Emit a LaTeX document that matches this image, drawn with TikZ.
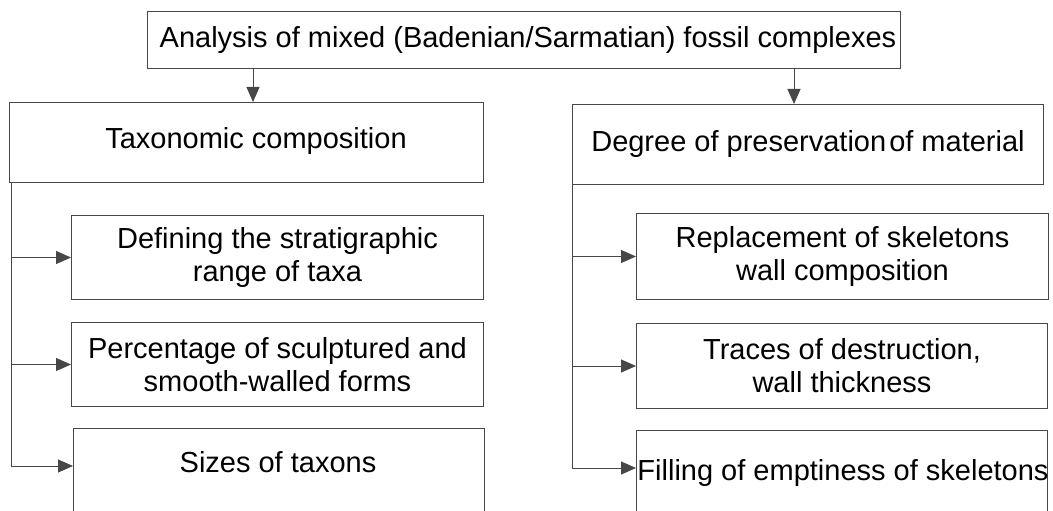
\documentclass[tikz,border=0pt]{standalone}
\usepackage{fontspec}
\setmainfont{Liberation Sans}
\usetikzlibrary{arrows.meta}
\begin{document}
\begin{tikzpicture}[x=1pt,y=-1pt,
  box/.style={draw=black!72, line width=1pt, inner sep=0pt, align=center,
    font=\fontsize{29}{33}\selectfont, anchor=north west},
  lbl/.style={inner sep=0pt, font=\fontsize{29}{33}\selectfont, anchor=base},
  conn/.style={draw=black!72, line width=1pt},
  arr/.style={conn, -{Triangle[length=15pt,width=13pt]}}]
\useasboundingbox (0,0) rectangle (1053,511);
\clip (0,0) rectangle (1053,511);
% top
\node[box, minimum width=753pt, minimum height=57pt] (top) at (147,11) {};
\node[lbl] (topt) at (528,48) {Analysis of mixed (Badenian/Sarmatian) fossil complexes};
% level 2
\node[box, minimum width=474pt, minimum height=80pt] (left) at (9,102) {};
\node[lbl] (leftt) at (256,148) {Taxonomic composition};
\node[box, minimum width=471pt, minimum height=80pt] (right) at (572,104)
  {Degree of preservation\hspace{3pt}of material};
% left children
\node[box, minimum width=412pt, minimum height=84pt] (L1) at (71,215)
  {Defining the stratigraphic\\range of taxa};
\node[box, minimum width=412pt, minimum height=84pt] (L2) at (71,322)
  {Percentage of sculptured and\\smooth-walled forms};
\node[box, minimum width=411pt, minimum height=110pt] (L3) at (73,428) {};
\node[lbl] (L3t) at (278,472) {Sizes of taxons};
% right children
\node[box, minimum width=412pt, minimum height=86pt] (R1) at (636,213)
  {Replacement of skeletons\\wall composition};
\node[box, minimum width=411pt, minimum height=85pt] (R2) at (636,323)
  {Traces of destruction,\\wall thickness};
\node[box, minimum width=411pt, minimum height=110pt] (R3) at (636,430) {};
\node[lbl] (R3t) at (843,480) {Filling of emptiness of skeletons};
% connectors from top
\coordinate (tl) at (253,0);
\coordinate (tr) at (794,0);
\draw[arr] (top.south -| tl) -- (left.north -| tl);
\draw[arr] (top.south -| tr) -- (right.north -| tr);
% left tree
\coordinate (a3) at (11,466);
\draw[conn] (left.south -| a3) -- (a3);
\draw[arr] (a3 |- L1.west) -- (L1.west);
\draw[arr] (a3 |- L2.west) -- (L2.west);
\draw[arr] (a3) -- (a3 -| L3.west);
% right tree
\coordinate (b3) at (572,468);
\draw[conn] (right.south west) -- (b3);
\draw[arr] (b3 |- R1.west) -- (R1.west);
\draw[arr] (b3 |- R2.west) -- (R2.west);
\draw[arr] (b3) -- (b3 -| R3.west);
\end{tikzpicture}
\end{document}
